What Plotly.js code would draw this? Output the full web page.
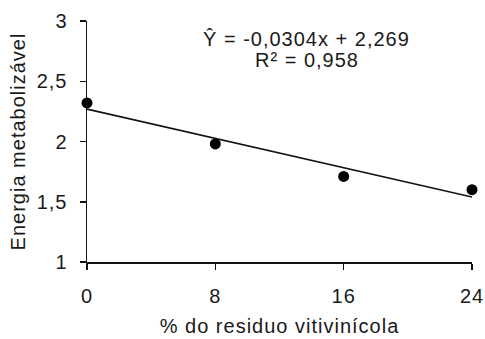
<!DOCTYPE html>
<html><head><meta charset="utf-8">
<script src="https://cdn.plot.ly/plotly-3.0.1.min.js"></script>
<style>html,body{margin:0;padding:0;background:#fff}#chart{width:485px;height:339px}
#chart text{letter-spacing:1px}</style>
</head><body><div id="chart"></div>
<script>
const residuo = [0, 8, 16, 24];
const energia = [2.32, 1.98, 1.71, 1.60];
const slope = -0.0304;
const intercept = 2.269;
const xTicks = [0, 8, 16, 24];
const yTicks = [1, 1.5, 2, 2.5, 3];
const yTickLabels = ['1', '1,5', '2', '2,5', '3'];
const eqText = 'Ŷ = -0,0304x + 2,269';
const r2Text = 'R² = 0,958';

const fitX = [residuo[0], residuo[residuo.length - 1]];
const fitY = fitX.map(x => slope * x + intercept);

const font = {family: 'Liberation Sans, Arial, sans-serif', color: '#1a1a1a', size: 20};

Plotly.newPlot('chart', [
  {x: fitX, y: fitY, mode: 'lines', line: {color: '#111', width: 1.6}, hoverinfo: 'skip', cliponaxis: false},
  {x: residuo, y: energia, mode: 'markers', marker: {color: '#000', size: 11}, cliponaxis: false}
], {
  width: 485, height: 339,
  margin: {l: 87, r: 13, t: 21, b: 77},
  showlegend: false,
  separators: ',.',
  paper_bgcolor: '#fff', plot_bgcolor: '#fff',
  font: font,
  xaxis: {
    range: [0, 24], tickvals: xTicks, ticks: 'outside', ticklen: 6, tickwidth: 1.5, tickcolor: '#111',
    showline: true, linecolor: '#111', linewidth: 1.5, showgrid: false, zeroline: false,
    tickfont: {size: 20}, ticklabelstandoff: 9,
    title: {text: '% do residuo vitivinícola', font: {size: 20}, standoff: 13}
  },
  yaxis: {
    range: [1, 3], tickvals: yTicks, ticktext: yTickLabels, ticks: 'outside', ticklen: 6, tickwidth: 1.5, tickcolor: '#111',
    showline: true, linecolor: '#111', linewidth: 1.5, showgrid: false, zeroline: false,
    tickfont: {size: 20}, ticklabelstandoff: 8,
    title: {text: 'Energia metabolizável', font: {size: 20}, standoff: 8}
  },
  annotations: [
    {xref: 'paper', yref: 'paper', x: 0.571, y: 0.925, xanchor: 'center', yanchor: 'middle', text: eqText, showarrow: false, font: {size: 20}},
    {xref: 'paper', yref: 'paper', x: 0.571, y: 0.838, xanchor: 'center', yanchor: 'middle', text: r2Text, showarrow: false, font: {size: 20}}
  ]
}, {displayModeBar: false, staticPlot: true});
</script></body></html>
